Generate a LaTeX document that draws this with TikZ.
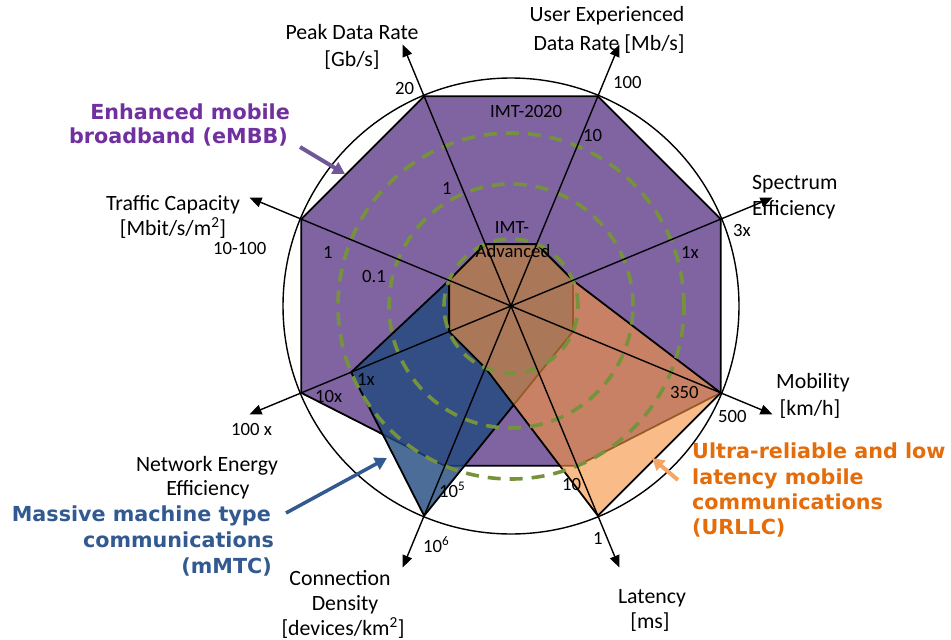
\documentclass[tikz,border=0pt]{standalone}
\usepackage{fontspec}
\setmainfont{Carlito}
\newfontfamily\catfont{DejaVu Sans}
\usetikzlibrary{arrows.meta}
\definecolor{embb}{RGB}{128,100,162}
\definecolor{mmtc}{RGB}{31,73,125}
\definecolor{urllc}{RGB}{245,147,64}
\definecolor{ringgreen}{RGB}{118,146,60}
\definecolor{embbtext}{RGB}{112,48,160}
\definecolor{embbarrow}{RGB}{112,88,152}
\definecolor{mmtctext}{RGB}{50,90,145}
\definecolor{urllctext}{RGB}{228,108,10}
\definecolor{urllcarrow}{RGB}{245,165,100}
\tikzset{
  lbl/.style={font=\fontsize{21.8}{26}\selectfont, inner sep=0pt},
  num/.style={font=\fontsize{18.7}{22}\selectfont, inner sep=0pt},
  cat/.style={font=\catfont\bfseries\fontsize{20.7}{25}\selectfont, inner sep=0pt},
  axisarrow/.style={line width=1.4pt, -{Triangle[length=12pt,width=10pt]}},
  greenring/.style={ringgreen, line width=3.6pt, dash pattern=on 13pt off 9pt},
  poly/.style={draw=black, line width=1.8pt},
  catarrow/.style={line width=4pt, -{Triangle[length=12pt,width=13pt]}}
}
\begin{document}
\begin{tikzpicture}[x=1pt,y=1pt]
\useasboundingbox (0,0) rectangle (951,-640);
\coordinate (O) at (511,-306);
\begin{scope}[shift={(511,-306)}]
  \foreach \n/\a in {us/67.5, pk/112.5, tr/157.5, nw/202.5, cd/247.5, lt/292.5, mb/337.5, sp/22.5} {
    \coordinate (\n1) at (\a:67);
    \coordinate (\n3) at (\a:173);
    \coordinate (\n4) at (\a:227);
    \coordinate (\n t) at (\a:283);
  }
\end{scope}
% eMBB
\filldraw[poly, fill=embb] (tr4)--(pk4)--(us4)--(sp4)--(mb4)--(lt3)--(cd3)--(nw4)--cycle;
% mMTC
\filldraw[poly, fill=mmtc, fill opacity=0.8] (tr1)--(pk1)--(us1)--(sp1)--(mb1)--(cd4)--(nw3)--cycle;
% URLLC
\filldraw[poly, fill=urllc, fill opacity=0.62] (tr1)--(pk1)--(us1)--(sp1)--(mb4)--(lt4)--(cd1)--(nw1)--cycle;
% rings
\draw[greenring] (O) circle[radius=67];
\draw[greenring] (O) circle[radius=122];
\draw[greenring] (O) circle[radius=173];
% outer circle
\draw[line width=1.4pt] (O) circle[radius=228];
% axes
\foreach \n in {us,pk,tr,nw,cd,lt,mb,sp} { \draw[axisarrow] (O) -- (\n t); }
% axis labels
\node[lbl, anchor=base] (peakA) at (352,-39) {Peak Data Rate};
\node[lbl, anchor=base] (peakB) at (352,-66) {[Gb/s]};
\node[lbl, anchor=base] (userA) at (607,-21) {User Experienced};
\node[lbl, anchor=base] (userB) at (609,-50) {Data Rate [Mb/s]};
\node[lbl, anchor=base west] (specA) at (752,-189) {Spectrum};
\node[lbl, anchor=base west] (specB) at (752,-215) {Efficiency};
\node[lbl, anchor=base] (mobA) at (813,-388) {Mobility};
\node[lbl, anchor=base] (mobB) at (810,-415) {[km/h]};
\node[lbl, anchor=base] (latA) at (652,-603) {Latency};
\node[lbl, anchor=base] (latB) at (650,-628) {[ms]};
\node[lbl, anchor=base] (conA) at (340,-585) {Connection};
\node[lbl, anchor=base] (conB) at (345,-610) {Density};
\node[lbl, anchor=base] (conC) at (343,-635) {[devices/km\textsuperscript{2}]};
\node[lbl, anchor=base] (netA) at (207,-471) {Network Energy};
\node[lbl, anchor=base] (netB) at (208,-495) {Efficiency};
\node[lbl, anchor=base] (trafA) at (173,-210) {Traffic Capacity};
\node[lbl, anchor=base] (trafB) at (173,-235) {[Mbit/s/m\textsuperscript{2}]};
% values
\node[num, anchor=base west] (v20) at (395,-94) {20};
\node[num, anchor=base west] (v100) at (613,-88) {100};
\node[num, anchor=base west] (vimt) at (490,-117) {IMT-2020};
\node[num, anchor=base west] (v10u) at (583,-141) {10};
\node[num, anchor=base west] (v1p) at (442,-194) {1};
\node[num, anchor=base west] (v3x) at (733,-236) {3x};
\node[num, anchor=base west] (v1xs) at (681,-258) {1x};
\node[num, anchor=base west] (v350) at (670,-398) {350};
\node[num, anchor=base west] (v500) at (718,-422) {500};
\node[num, anchor=base west] (v10l) at (562,-490) {10};
\node[num, anchor=base west] (v1l) at (593,-544) {1};
\node[num, anchor=base west] (v105) at (439,-497) {10\textsuperscript{5}};
\node[num, anchor=base west] (v106) at (423,-552) {10\textsuperscript{6}};
\node[num, anchor=base west] (v10x) at (315,-402) {10x};
\node[num, anchor=base west] (v100x) at (231,-435) {100 x};
\node[num, anchor=base west] (v1xn) at (357,-385) {1x};
\node[num, anchor=base west] (v10100) at (213,-254) {10-100};
\node[num, anchor=base west] (v1t) at (323,-258) {1};
\node[num, anchor=base west] (v01) at (362,-282) {0.1};
\node[num, anchor=base] (advA) at (512,-233) {IMT-};
\node[num, anchor=base] (advB) at (513,-257) {Advanced};
% category labels
\node[cat, text=embbtext, anchor=base east] (embbA) at (290,-119) {Enhanced mobile};
\node[cat, text=embbtext, anchor=base east] (embbB) at (288,-143) {broadband (eMBB)};
\node[cat, text=mmtctext, anchor=base east] (mmtcA) at (271,-521) {Massive machine type};
\node[cat, text=mmtctext, anchor=base east] (mmtcB) at (274,-547) {communications};
\node[cat, text=mmtctext, anchor=base east] (mmtcC) at (272,-573) {(mMTC)};
\node[cat, text=urllctext, anchor=base west] (urA) at (692,-458) {Ultra-reliable and low};
\node[cat, text=urllctext, anchor=base west] (urB) at (692,-484) {latency mobile};
\node[cat, text=urllctext, anchor=base west] (urC) at (692,-509) {communications};
\node[cat, text=urllctext, anchor=base west] (urD) at (692,-534) {(URLLC)};
% category arrows
\coordinate (ea1) at (300,-147); \coordinate (ea2) at (345,-174);
\coordinate (ma1) at (286,-513); \coordinate (ma2) at (387,-458);
\coordinate (ua1) at (678,-480); \coordinate (ua2) at (652,-458);
\draw[catarrow, embbarrow] (ea1) -- (ea2);
\draw[catarrow, mmtctext, line width=3.5pt] (ma1) -- (ma2);
\draw[catarrow, urllcarrow] (ua1) -- (ua2);
\end{tikzpicture}
\end{document}
